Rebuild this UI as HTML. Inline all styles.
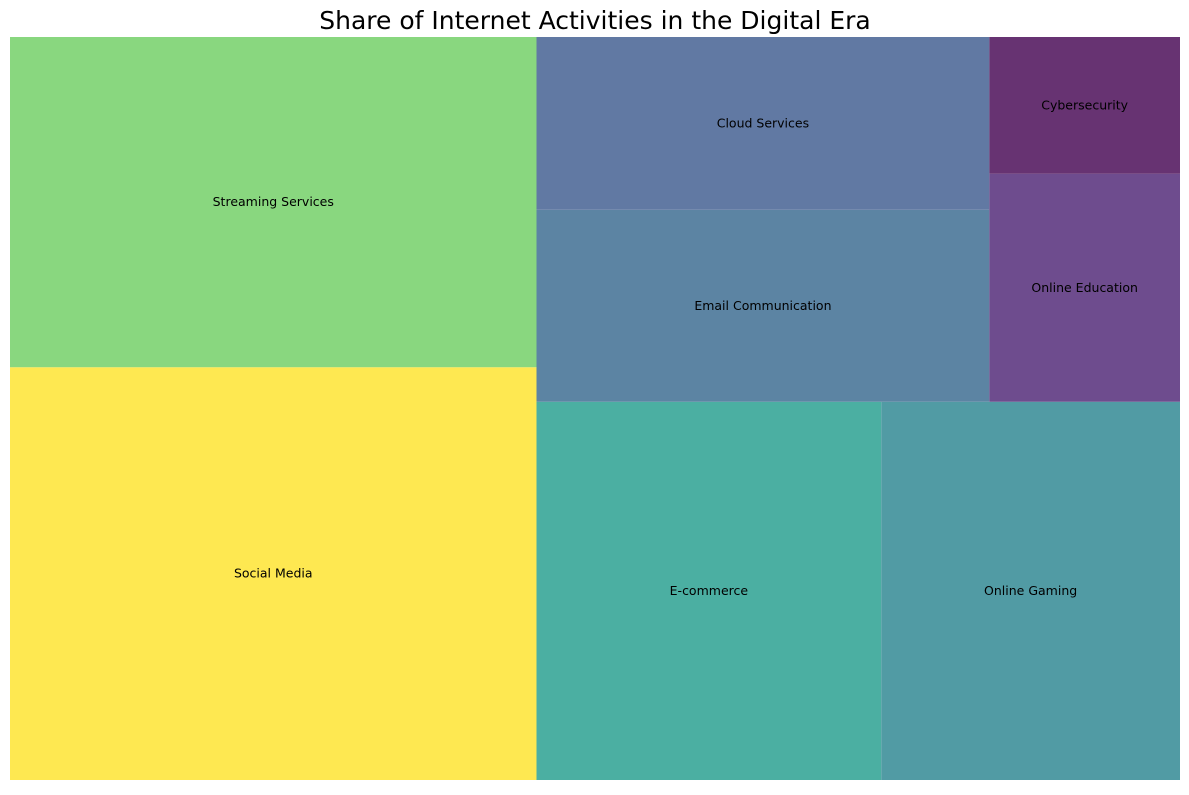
<!DOCTYPE html>
<html><head><meta charset="utf-8">
<style>
html,body{margin:0;padding:0;background:#fff;}
body{width:1189px;height:790px;overflow:hidden;font-family:"Liberation Sans","DejaVu Sans",sans-serif;}
</style></head>
<body>
<svg id="chart" width="1189" height="790" xmlns="http://www.w3.org/2000/svg">
<text x="595" y="29" text-anchor="middle" font-size="25" font-family="DejaVu Sans, Liberation Sans, sans-serif" fill="#000">Share of Internet Activities in the Digital Era</text>
<g id="tiles"></g>
</svg>
<script>
const categories = ["Social Media","Streaming Services","E-commerce","Online Gaming","Email Communication","Cloud Services","Online Education","Cybersecurity"];
const values = [25,20,15,13,10,9,5,3];
const colors = ["#fee851","#89d77f","#4bafa2","#519ba4","#5c84a3","#6179a3","#6e4c8e","#673372"];

const X0=10, Y0=37, W=1170, H=743;
// layout tree: 'h' splits width left-to-right, 'v' stacks bottom-to-top
const tree = {dir:'h', kids:[
  {dir:'v', kids:[0,1]},
  {dir:'v', kids:[
    {dir:'h', kids:[2,3]},
    {dir:'h', kids:[{dir:'v', kids:[4,5]},{dir:'v', kids:[6,7]}]}
  ]}
]};
function sum(n){return typeof n==='number'?values[n]:n.kids.reduce((a,k)=>a+sum(k),0);}
const out=[];
function place(n,x,y,w,h){ // x,y = screen left, bottom
  if(typeof n==='number'){out.push({i:n,x:x,y:y-h,w:w,h:h});return;}
  const t=sum(n);
  let off=0;
  for(const k of n.kids){
    const f=sum(k)/t;
    if(n.dir==='h'){place(k,x+off,y,w*f,h);off+=w*f;}
    else{place(k,x,y-off,w,h*f);off+=h*f;}
  }
}
place(tree,X0,Y0+H,W,H);
const g=document.getElementById('tiles');
const NS="http://www.w3.org/2000/svg";
out.sort((a,b)=>a.i-b.i).forEach(r=>{
 const i=r.i;
 const rect=document.createElementNS(NS,'rect');
 rect.setAttribute('x',r.x);rect.setAttribute('y',r.y);
 rect.setAttribute('width',r.w);rect.setAttribute('height',r.h);
 rect.setAttribute('fill',colors[i]);
 
 
 g.appendChild(rect);
 const t=document.createElementNS(NS,'text');
 t.setAttribute('x',r.x+r.w/2);t.setAttribute('y',r.y+r.h/2+4);
 t.setAttribute('text-anchor','middle');t.setAttribute('font-size','12.5');
 t.setAttribute('font-family','DejaVu Sans, Liberation Sans, sans-serif');
 t.textContent=categories[i];
 
 
 g.appendChild(t);
});
</script>
</body></html>
